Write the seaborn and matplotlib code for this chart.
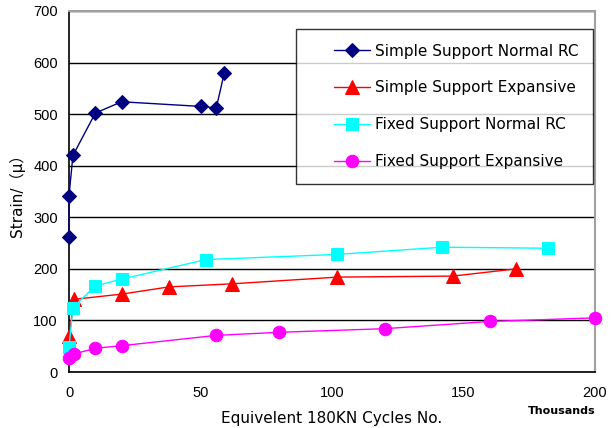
import matplotlib
matplotlib.use("Agg")
import matplotlib.pyplot as plt
from matplotlib.lines import Line2D
from matplotlib.legend_handler import HandlerLine2D
import seaborn as sns
import pandas as pd

# Data (x in thousands of cycles, strain in micro)
ss_normal_x = [0, 0, 1.5, 10, 20, 50, 56, 59]
ss_normal_y = [261, 342, 420, 502, 524, 515, 512, 579]

ss_exp_x = [0, 2, 20, 38, 62, 102, 146, 170]
ss_exp_y = [70, 141, 151, 165, 171, 184, 186, 200]

fs_normal_x = [0, 1.5, 10, 20, 52, 102, 142, 182]
fs_normal_y = [48, 125, 167, 180, 218, 228, 242, 240]

fs_exp_x = [0, 2, 10, 20, 56, 80, 120, 160, 200]
fs_exp_y = [27, 35, 46, 51, 71, 77, 84, 98, 105]

labels = ["Simple Support Normal RC", "Simple Support Expansive",
          "Fixed Support Normal RC", "Fixed Support Expansive"]
xs = [ss_normal_x, ss_exp_x, fs_normal_x, fs_exp_x]
ys = [ss_normal_y, ss_exp_y, fs_normal_y, fs_exp_y]
colors = ["#000080", "#FF0000", "#00FFFF", "#FF00FF"]
markers = ["D", "^", "s", "o"]
msizes = [7.5, 9.5, 8.5, 9]

x_ticks = [0, 50, 100, 150, 200]
y_ticks = [0, 100, 200, 300, 400, 500, 600, 700]

sns.set_theme(style="white")
plt.rcParams['font.family'] = ['DejaVu Sans', 'Noto Sans CJK JP']
plt.rcParams['text.color'] = 'black'
plt.rcParams['axes.labelcolor'] = 'black'
plt.rcParams['xtick.color'] = 'black'
plt.rcParams['ytick.color'] = 'black'

fig = plt.figure(figsize=(6.12, 4.28), dpi=100)
ax = fig.add_axes([69/612, 1-372/428, (595-69)/612, (372-11)/428])

for x, y, lab, c, m, s in zip(xs, ys, labels, colors, markers, msizes):
    df = pd.DataFrame({"x": x, "y": y})
    sns.lineplot(data=df, x="x", y="y", ax=ax, sort=False, color=c,
                 marker=m, markersize=s, markeredgecolor=c, linewidth=1,
                 label=lab, estimator=None, clip_on=False, zorder=3)

ax.set_xlim(0, 200)
ax.set_ylim(0, 700)
ax.set_xticks(x_ticks)
ax.set_yticks(y_ticks)
ax.yaxis.grid(True, color="black", linewidth=1)
ax.set_axisbelow(True)
for sp in ["left", "bottom"]:
    ax.spines[sp].set_color("black")
    ax.spines[sp].set_linewidth(1.2)
for sp in ["right", "top"]:
    ax.spines[sp].set_color("#A0A0A0")
    ax.spines[sp].set_linewidth(1.5)
ax.tick_params(axis="x", direction="in", length=5, width=1, color="black",
               pad=10)
ax.tick_params(axis="y", length=0, pad=8)
for t in ax.get_xticklabels() + ax.get_yticklabels():
    t.set_fontfamily(["Liberation Sans", "DejaVu Sans"])
    t.set_fontsize(10.5)

ax.set_xlabel("Equivelent 180KN Cycles No.", fontsize=11, labelpad=8)
ax.set_ylabel("Strain/（μ）", fontsize=11, labelpad=6,
              family=["DejaVu Sans", "Noto Sans CJK JP"])
ax.text(1.0, -0.108, "Thousands", transform=ax.transAxes, ha="right",
        va="center", fontsize=8, fontweight="bold")

leg = ax.legend(loc="upper right", bbox_to_anchor=(0.996, 0.950),
                borderaxespad=0, frameon=True, fancybox=False,
                edgecolor="black", fontsize=11, handlelength=3.9,
                labelspacing=1.43, borderpad=0.95, handletextpad=0.3,
                handler_map={Line2D: HandlerLine2D(xpad=1.5)})
leg.get_frame().set_linewidth(1)
for t in leg.get_texts():
    t.set_color("black")

fig.savefig("out.png", dpi=100)
